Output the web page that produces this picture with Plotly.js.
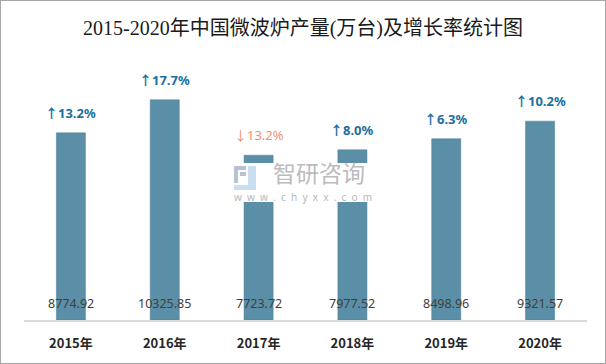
<!DOCTYPE html>
<html>
<head>
<meta charset="utf-8">
<script src="https://cdn.plot.ly/plotly-3.0.1.min.js"></script>
<style>
html,body{margin:0;padding:0;background:#fff;}
#wrap{position:relative;width:606px;height:364px;}
#chart{width:606px;height:364px;}
#frame{position:absolute;left:0;top:0;width:604px;height:362px;border:1px solid #a6a6a6;pointer-events:none;}
</style>
</head>
<body>
<div id="wrap"><div id="chart"></div><div id="frame"></div></div>
<script>
const years = ["2015年","2016年","2017年","2018年","2019年","2020年"];
const output = [8774.92, 10325.85, 7723.72, 7977.52, 8498.96, 9321.57];
const growth = [13.2, 17.7, -13.2, 8.0, 6.3, 10.2];

const barColor = "#5b8fa7";
const upColor = "#1b6f9f";
const downColor = "#f0916b";

const trace = {
  type: "bar",
  x: years,
  y: output,
  marker: {color: barColor, line: {color: "#4d7f97", width: 0.5}},
  hoverinfo: "skip"
};

const annotations = [];
years.forEach((yr, i) => {
  annotations.push({
    x: yr, y: 0, xref: "x", yref: "y",
    text: output[i].toFixed(2),
    showarrow: false, yanchor: "bottom", yshift: 6,
    font: {family: "Noto Sans, Noto Sans CJK SC, sans-serif", size: 12.5, color: "#404040"}
  });
  const up = growth[i] >= 0;
  annotations.push({
    x: yr, y: output[i], xref: "x", yref: "y",
    text: up ? "<b>↑" + growth[i].toFixed(1) + "%</b>" : "↓" + Math.abs(growth[i]).toFixed(1) + "%",
    showarrow: false, yanchor: "bottom", yshift: 9,
    font: {family: "Noto Sans, Noto Sans CJK SC, sans-serif", size: 13, color: up ? upColor : downColor}
  });
});

function px(xp){return (xp-24)/563;}
function py(yp){return (320-yp)/256;}

// watermark
annotations.push({
  xref: "paper", yref: "paper", x: px(319), y: py(172), yanchor: "middle",
  text: "智研咨询", showarrow: false, borderpad: 0,
  font: {family: "Noto Sans CJK SC", size: 23, color: "#bcbcbc"}
});
annotations.push({
  xref: "paper", yref: "paper", x: px(303), y: py(197), yanchor: "middle",
  text: "w&nbsp;&nbsp;w&nbsp;&nbsp;w&nbsp;&nbsp;.&nbsp;&nbsp;c&nbsp;&nbsp;h&nbsp;&nbsp;y&nbsp;&nbsp;x&nbsp;&nbsp;x&nbsp;&nbsp;.&nbsp;&nbsp;c&nbsp;&nbsp;o&nbsp;&nbsp;m",
  showarrow: false, borderpad: 0,
  font: {family: "Noto Sans, sans-serif", size: 10, color: "#b8b8b8"}
});

const shapes = [
  {type:"rect", xref:"paper", yref:"paper", x0:px(228), x1:px(380), y0:py(202), y1:py(163),
   fillcolor:"#ffffff", line:{width:0}, layer:"above"},
  // logo approximation
  {type:"rect", xref:"paper", yref:"paper", x0:px(234), x1:px(246), y0:py(170), y1:py(166),
   fillcolor:"#b7c3d3", line:{width:0}, layer:"above"},
  {type:"rect", xref:"paper", yref:"paper", x0:px(234), x1:px(238), y0:py(183), y1:py(166),
   fillcolor:"#b7c3d3", line:{width:0}, layer:"above"},
  {type:"rect", xref:"paper", yref:"paper", x0:px(240), x1:px(246), y0:py(176), y1:py(172),
   fillcolor:"#b7c3d3", line:{width:0}, layer:"above"},
  {type:"rect", xref:"paper", yref:"paper", x0:px(248), x1:px(256), y0:py(190), y1:py(166),
   fillcolor:"#c9dff1", line:{width:0}, layer:"above"},
  {type:"rect", xref:"paper", yref:"paper", x0:px(234), x1:px(248), y0:py(190), y1:py(185),
   fillcolor:"#c9dff1", line:{width:0}, layer:"above"}
];

const layout = {
  width: 606, height: 364,
  margin: {l: 24, r: 19, t: 64, b: 44},
  paper_bgcolor: "#ffffff", plot_bgcolor: "#ffffff",
  showlegend: false,
  bargap: 0.69,
  title: {
    text: "2015-2020年中国微波炉产量(万台)及增长率统计图",
    x: 0.5, xanchor: "center", y: 0.923, yanchor: "middle", yref: "container",
    font: {family: "Liberation Serif, DejaVu Serif, Noto Sans CJK SC, serif", size: 20, color: "#1a1a1a"}
  },
  xaxis: {
    type: "category",
    showgrid: false, zeroline: false,
    showline: true, linecolor: "#d9d9d9", linewidth: 1.5,
    ticks: "outside", ticklen: 11, tickcolor: "rgba(0,0,0,0)",
    tickfont: {family: "Noto Sans CJK SC, sans-serif", size: 13, color: "#262626", weight: "bold"},
    fixedrange: true
  },
  yaxis: {
    range: [0, 12000],
    visible: false, showgrid: false, zeroline: false, fixedrange: true
  },
  annotations: annotations,
  shapes: shapes
};

Plotly.newPlot("chart", [trace], layout, {displayModeBar: false, staticPlot: true});
</script>
</body>
</html>
